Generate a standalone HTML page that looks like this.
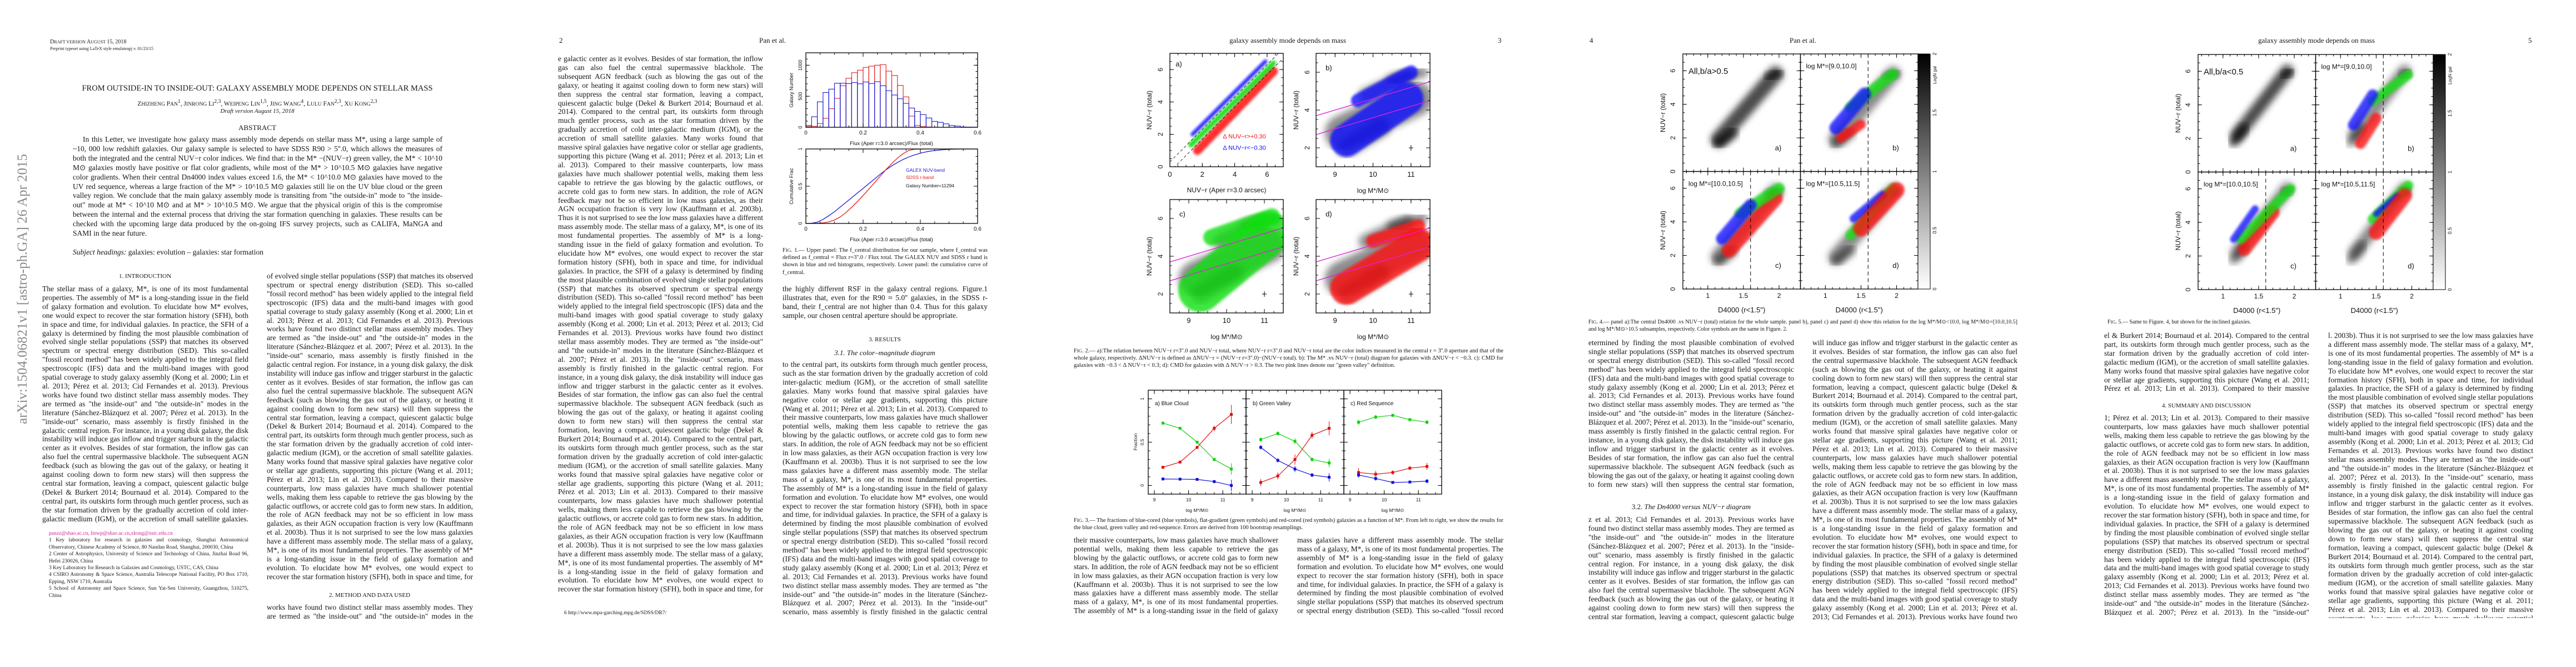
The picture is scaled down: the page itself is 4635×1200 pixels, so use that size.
<!DOCTYPE html>
<html><head><meta charset="utf-8">
<style>
body{margin:0;width:4635px;height:1200px;position:relative;background:#fff;overflow:hidden;font-family:"Liberation Serif",serif;color:#161616}
.t{position:absolute;font-size:13.5px;line-height:15.9px;text-align:justify;overflow:hidden}
.cap{position:absolute;font-size:10.5px;line-height:13.2px;text-align:justify;overflow:hidden}
.h{position:absolute;white-space:nowrap;transform:translateX(-50%)}
.l{position:absolute;white-space:nowrap}
svg#figs{position:absolute;left:0;top:0}
</style></head><body>

<svg width="40" height="600" style="position:absolute;left:18px;top:230px"><text x="-290" y="30" transform="rotate(-90)" text-anchor="middle" font-family="Liberation Serif" font-size="25" fill="#8a8a8a">arXiv:1504.06821v1  [astro-ph.GA]  26 Apr 2015</text></svg>

<div class="l" style="left:90px;top:70px;font-size:10px">D<span style="font-size:8px">RAFT VERSION</span> A<span style="font-size:8px">UGUST</span> 15, 2018</div>
<div class="l" style="left:90px;top:83px;font-size:8px">Preprint typeset using LaTeX style emulateapj v. 01/23/15</div>
<div class="h" style="left:463px;top:151px;font-size:14.5px">FROM OUTSIDE-IN TO INSIDE-OUT: GALAXY ASSEMBLY MODE DEPENDS ON STELLAR MASS</div>
<div class="h" style="left:463px;top:177px;font-size:11.5px">Z<small>HIZHENG</small> P<small>AN</small><sup>1</sup>, J<small>INRONG</small> L<small>I</small><sup>2,3</sup>, W<small>EIPENG</small> L<small>IN</small><sup>1,5</sup>, J<small>ING</small> W<small>ANG</small><sup>4</sup>, L<small>ULU</small> F<small>AN</small><sup>2,3</sup>, X<small>U</small> K<small>ONG</small><sup>2,3</sup></div>
<div class="h" style="left:463px;top:194px;font-size:11px;font-style:italic">Draft version August 15, 2018</div>
<div class="h" style="left:463px;top:222px;font-size:13px">ABSTRACT</div>
<div class="t" style="left:131px;top:243px;width:665px;height:203px;line-height:16.9px;text-indent:18px">In this Letter, we investigate how galaxy mass assembly mode depends on stellar mass M*, using a large sample of ~10, 000 low redshift galaxies. Our galaxy sample is selected to have SDSS R90 &gt; 5''.0, which allows the measures of both the integrated and the central NUV−r color indices. We find that: in the M* −(NUV−r) green valley, the M* &lt; 10^10 M⊙ galaxies mostly have positive or flat color gradients, while most of the M* &gt; 10^10.5 M⊙ galaxies have negative color gradients. When their central Dn4000 index values exceed 1.6, the M* &lt; 10^10.0 M⊙ galaxies have moved to the UV red sequence, whereas a large fraction of the M* &gt; 10^10.5 M⊙ galaxies still lie on the UV blue cloud or the green valley region. We conclude that the main galaxy assembly mode is transiting from "the outside-in" mode to "the inside-out" mode at M* &lt; 10^10 M⊙ and at M* &gt; 10^10.5 M⊙. We argue that the physical origin of this is the compromise between the internal and the external process that driving the star formation quenching in galaxies. These results can be checked with the upcoming large data produced by the on-going IFS survey projects, such as CALIFA, MaNGA and SAMI in the near future.</div>
<div class="l" style="left:131px;top:446px;font-size:13.5px"><i>Subject headings:</i> galaxies: evolution – galaxies: star formation</div>
<div class="h" style="left:261px;top:491px;font-size:11px">1. INTRODUCTION</div>
<div class="t fill" style="left:76px;top:512px;width:371px;height:430px"></div>
<div class="cap" style="left:88px;top:954px;width:359px;height:158px;font-size:9.5px;line-height:12.4px"><span style="color:#d0208a">panzz@shao.ac.cn, linwp@shao.ac.cn,xkong@ustc.edu.cn</span><br>1 Key laboratory for research in galaxies and cosmology, Shanghai Astronomical Observatory, Chinese Academy of Science, 80 Nandan Road, Shanghai, 200030, China<br>2 Center of Astrophysics, University of Science and Technology of China, Jinzhai Road 96, Hefei 230026, China<br>3 Key Laboratory for Research in Galaxies and Cosmology, USTC, CAS, China<br>4 CSIRO Astronomy &amp; Space Science, Australia Telescope National Facility, PO Box 1710, Epping, NSW 1710, Australia<br>5 School of Astronomy and Space Science, Sun Yat-Sen University, Guangzhou, 510275, China</div>
<div class="t fill" style="left:480px;top:489px;width:371px;height:559px"></div>
<div class="h" style="left:665px;top:1065px;font-size:11px">2. METHOD AND DATA USED</div>
<div class="t fill" style="left:480px;top:1085px;width:371px;height:32px"></div>

<!-- page 2 -->
<div class="l" style="left:1006px;top:65px;font-size:13px">2</div>
<div class="h" style="left:1390px;top:65px;font-size:13px">Pan et al.</div>
<div class="t fill" style="left:1004px;top:98px;width:369px;height:970px"></div>
<div class="l" style="left:1015px;top:1098px;font-size:9.5px">6 http://www.mpa-garching.mpg.de/SDSS/DR7/</div>
<div class="cap" style="left:1408px;top:444px;width:369px;height:56px">F<small>IG</small>. 1.— Upper panel: The f_central distribution for our sample, where f_central was defined as f_central = Flux r=3''.0 / Flux total. The GALEX NUV and SDSS r band is shown in blue and red histograms, respectively. Lower panel: the cumulative curve of f_central.</div>
<div class="t" style="left:1408px;top:512px;width:369px;height:80px">the highly different RSF in the galaxy central regions. Figure.1 illustrates that, even for the R90 ≈ 5.0'' galaxies, in the SDSS r-band, their f_central are not higher than 0.4. Thus for this galaxy sample, our chosen central aperture should be appropriate.</div>
<div class="h" style="left:1592px;top:605px;font-size:11px">3. RESULTS</div>
<div class="h" style="left:1592px;top:627px;font-size:13px;font-style:italic">3.1. The color–magnitude diagram</div>
<div class="t fill" style="left:1408px;top:648px;width:369px;height:462px"></div>

<!-- page 3 -->
<div class="h" style="left:2317px;top:65px;font-size:13px">galaxy assembly mode depends on mass</div>
<div class="l" style="left:2695px;top:65px;font-size:13px">3</div>
<div class="cap" style="left:1932px;top:625px;width:773px;height:56px">F<small>IG</small>. 2.— a):The relation between NUV−r r=3''.0 and NUV−r total, where NUV−r r=3''.0 and NUV−r total are the color indices measured in the central r = 3''.0 aperture and that of the whole galaxy, respectively. ΔNUV−r is defined as ΔNUV−r = (NUV−r r=3''.0)−(NUV−r total). b): The M* .vs NUV−r (total) diagram for galaxies with ΔNUV−r &lt; −0.3. c): CMD for galaxies with −0.3 &lt; Δ NUV−r &lt; 0.3; d): CMD for galaxies with Δ NUV−r &gt; 0.3. The two pink lines denote our "green valley" definition.</div>
<div class="cap" style="left:1932px;top:930px;width:773px;height:28px">F<small>IG</small>. 3.— The fractions of blue-cored (blue symbols), flat-gradient (green symbols) and red-cored (red symbols) galaxies as a function of M*. From left to right, we show the results for the blue cloud, green valley and red-sequence. Errors are derived from 100 bootstrap resamplings.</div>
<div class="t fill" style="left:1932px;top:964px;width:368px;height:143px"></div>
<div class="t fill" style="left:2334px;top:964px;width:371px;height:143px"></div>

<!-- page 4 -->
<div class="l" style="left:2860px;top:65px;font-size:13px">4</div>
<div class="h" style="left:3244px;top:65px;font-size:13px">Pan et al.</div>
<div class="cap" style="left:2858px;top:573px;width:772px;height:28px;font-size:10px">F<small>IG</small>. 4.— panel a):The central Dn4000 .vs NUV−r (total) relation for the whole sample. panel b), panel c) and panel d) show this relation for the log M*/M⊙&lt;10.0, log M*/M⊙=[10.0,10.5] and log M*/M⊙&gt;10.5 subsamples, respectively. Color symbols are the same in Figure. 2.</div>
<div class="t fill" style="left:2858px;top:609px;width:370px;height:272px"></div>
<div class="h" style="left:3043px;top:904px;font-size:13px">3.2. <i>The Dn4000 versus NUV−r diagram</i></div>
<div class="t fill" style="left:2858px;top:927px;width:370px;height:190px"></div>
<div class="t fill" style="left:3261px;top:609px;width:369px;height:508px"></div>

<!-- page 5 -->
<div class="h" style="left:4168px;top:65px;font-size:13px">galaxy assembly mode depends on mass</div>
<div class="l" style="left:4549px;top:65px;font-size:13px">5</div>
<div class="l" style="left:3792px;top:574px;font-size:10px">F<small>IG</small>. 5.— Same to Figure. 4, but shown for the inclined galaxies.</div>
<div class="t fill" style="left:3786px;top:596px;width:369px;height:112px"></div>
<div class="h" style="left:3970px;top:724px;font-size:11px">4. SUMMARY AND DISCUSSION</div>
<div class="t fill" style="left:3786px;top:744px;width:369px;height:368px"></div>
<div class="t fill" style="left:4189px;top:596px;width:369px;height:516px"></div>

<svg id="figs" width="4635" height="1200">
<defs>
<filter id="b6" x="-50%" y="-50%" width="200%" height="200%"><feGaussianBlur stdDeviation="6"/></filter>
<filter id="b2" x="-50%" y="-50%" width="200%" height="200%"><feGaussianBlur stdDeviation="2.2"/></filter>
<linearGradient id="cbar" x1="0" y1="0" x2="0" y2="1"><stop offset="0" stop-color="#000"/><stop offset="1" stop-color="#fff"/></linearGradient>
</defs>
</svg>

<script>
// ---------- Figure 1 data ----------
const histBinEdges=[0,0.02,0.04,0.06,0.08,0.10,0.12,0.14,0.16,0.18,0.20,0.22,0.24,0.26,0.28,0.30,0.32,0.34,0.36,0.38,0.40,0.42,0.44,0.46,0.48,0.50,0.52,0.54,0.56,0.58];
const nuvCounts=[30,170,410,560,615,710,710,705,720,700,730,705,735,670,590,520,460,385,310,255,205,150,95,80,55,30,20,5,3,2];
const rCounts=[10,15,60,145,300,465,670,790,880,920,965,985,1000,1010,905,835,675,490,180,30,10,5,0,0,0,0,0,0,0,0];
const fluxTicks=[0,0.2,0.4,0.6];
const countTicks=[0,500,1000];
const cumTicks=[0,0.5,1];
// ---------- Figure 3 data ----------
const massBins=[9.25,9.75,10.25,10.75,11.25];
const massTicks=[9,10,11];
const fracTicks=[0,0.5,1];
const bcGreen=[0.72,0.66,0.50,0.30,0.19], bcRed=[0.21,0.27,0.44,0.66,0.82], bcBlue=[0.075,0.073,0.07,0.045,0.0];
const gvGreen=[0.53,0.60,0.51,0.30,0.26], gvRed=[0.035,0.11,0.30,0.58,0.66], gvBlue=[0.44,0.29,0.19,0.12,0.095];
const rsGreen=[0.73,0.79,0.81,0.76,0.73], rsRed=[0.15,0.13,0.15,0.20,0.22], rsBlue=[0.12,0.08,0.035,0.04,0.05];
const bcErr=[0.015,0.015,0.015,0.03,0.11], gvErr=[0.04,0.04,0.06,0.04,0.08], rsErr=[0.05,0.04,0.025,0.02,0.04];
// ---------- Figure 2 clouds [x1,y1,x2,y2,width] ----------
const f2aRed=[[1.7,1.0,6.4,5.9,0.75]], f2aBlue=[[1.4,2.0,5.9,6.5,0.35]], f2aGreen=[[1.3,1.35,6.4,6.4,0.45]];
const f2Gray=[[9.3,2.0,10.2,3.1,1.4],[9.2,2.8,11.1,4.6,2.6],[10.5,5.6,11.3,6.0,0.8],[9.8,4.8,10.9,5.8,1.0]];
const f2bBlue=[[9.3,2.4,10.9,4.6,2.4],[9.6,4.5,11.0,6.0,1.0]];
const f2cGreen=[[9.3,2.2,11.1,5.2,3.2],[9.6,5.0,11.2,6.1,1.2]];
const f2dRed=[[9.3,2.3,11.2,4.6,2.4],[10.0,4.8,11.2,5.6,1.0]];
const gvLineSlope=0.6, gvLineLow=-2.4, gvLineHigh=-1.4;
// ---------- Figure 4 / 5 clouds ----------
const f4Gray=[[1.15,1.9,1.95,5.8,1.3],[1.15,1.7,1.35,2.3,0.9],[1.85,5.6,2.0,5.9,0.6]];
const f4bBlue=[[1.15,2.6,1.55,4.6,1.1]], f4bRed=[[1.22,2.0,1.5,2.8,0.8]], f4bGreen=[[1.35,3.8,1.95,5.8,0.9]];
const f4cBlue=[[1.2,3.0,1.6,5.0,1.0]], f4cGreen=[[1.45,4.5,2.0,6.0,0.9]], f4cRed=[[1.3,2.3,1.95,5.4,1.2]];
const f4dBlue=[[1.4,4.2,1.8,5.6,0.7]], f4dGreen=[[1.35,3.2,1.95,6.0,0.8]], f4dRed=[[1.5,3.6,2.0,5.9,1.3]];
const f5Gray=[[1.2,2.2,1.9,6.0,1.1],[1.15,1.8,1.3,2.6,0.8],[1.85,5.7,1.95,6.0,0.6]];
const f5bBlue=[[1.18,2.8,1.45,4.6,0.9]], f5bRed=[[1.28,1.7,1.5,3.2,0.9]], f5bGreen=[[1.45,4.2,1.95,5.8,0.8]];
const f5cBlue=[[1.15,3.0,1.45,4.8,0.6]], f5cGreen=[[1.25,3.0,1.95,6.0,0.8]], f5cRed=[[1.3,2.4,1.7,4.6,1.1]];
const f5dBlue=[[1.5,4.5,1.8,5.6,0.5]], f5dGreen=[[1.45,4.2,1.95,6.2,0.8]], f5dRed=[[1.5,3.4,1.9,5.6,1.2]];
const d4000Ticks=[1,1.5,2];
const nuvTicks=[0,2,4,6];
const cmdTicks=[2,4,6];
const cbarLabels=['0','0.5','1','1.5','2'];

const NS='http://www.w3.org/2000/svg';
const svg=document.getElementById('figs');
const CLOUD_SCALE=0.72;
function mk(tag,parent){const e=document.createElementNS(NS,tag);parent.appendChild(e);return e;}
function at(e,o){for(const k in o)e.setAttribute(k,o[k]);return e;}
function sc(d0,d1,p0,p1){return v=>p0+(v-d0)/(d1-d0)*(p1-p0);}
function txt(p,x,y,s,size,opt){opt=opt||{};const t=mk('text',p);at(t,{x:x,y:y,'font-size':size,'font-family':opt.fam||'Liberation Sans','text-anchor':opt.anchor||'middle',fill:opt.fill||'#111'});if(opt.rot)t.setAttribute('transform','rotate(-90 '+x+' '+y+')');t.textContent=s;return t;}
let clipN=0;
function panel(name,x0,y0,x1,y1,xd,yd){
  const g=mk('g',svg);
  
  
  const cp=mk('clipPath',g);const id='cp'+(clipN++);cp.setAttribute('id',id);
  at(mk('rect',cp),{x:x0,y:y0,width:x1-x0,height:y1-y0});
  const inner=mk('g',g);inner.setAttribute('clip-path','url(#'+id+')');
  return {g:g,inner:inner,x0:x0,y0:y0,x1:x1,y1:y1,X:sc(xd[0],xd[1],x0,x1),Y:sc(yd[0],yd[1],y1,y0)};
}
function frame(P,xt,yt,xm,ym){
  const f=mk('rect',P.g);at(f,{x:P.x0,y:P.y0,width:P.x1-P.x0,height:P.y1-P.y0,fill:'none',stroke:'#000','stroke-width':1.3});
  
  
  const tk=(x1,y1,x2,y2)=>at(mk('line',P.g),{x1:x1,y1:y1,x2:x2,y2:y2,stroke:'#000','stroke-width':1});
  xt.forEach(v=>{const x=P.X(v);tk(x,P.y1,x,P.y1-7);tk(x,P.y0,x,P.y0+7);});
  yt.forEach(v=>{const y=P.Y(v);tk(P.x0,y,P.x0+7,y);tk(P.x1,y,P.x1-7,y);});
  (xm||[]).forEach(v=>{const x=P.X(v);tk(x,P.y1,x,P.y1-3.5);tk(x,P.y0,x,P.y0+3.5);});
  (ym||[]).forEach(v=>{const y=P.Y(v);tk(P.x0,y,P.x0+3.5,y);tk(P.x1,y,P.x1-3.5,y);});
}
function range(a,b,s){const r=[];for(let v=a;v<=b+1e-9;v+=s)r.push(+v.toFixed(4));return r;}
function clouds(P,list,color,op,filt,name){
  list.forEach(c=>{
    const l=mk('line',P.inner);
    at(l,{x1:P.X(c[0]),y1:P.Y(c[1]),x2:P.X(c[2]),y2:P.Y(c[3]),stroke:color,'stroke-opacity':op,'stroke-width':CLOUD_SCALE*Math.abs(P.Y(0)-P.Y(c[4])),'stroke-linecap':'round',filter:'url(#'+filt+')'});
    
    
  });
}

// ===== Figure 1 =====
(function(){
  const P=panel('fig1-histogram',1450,95,1759,229,[0,0.6],[0,1200]);
  [[rCounts,'#e0201c'],[nuvCounts,'#1a1ad8']].forEach(([arr,col])=>{
    arr.forEach((v,i)=>{const x=P.X(histBinEdges[i]),w=P.X(histBinEdges[i]+0.02)-x;
      const r=mk('rect',P.inner);at(r,{x:x,y:P.Y(v),width:w,height:P.Y(0)-P.Y(v),fill:'none',stroke:col,'stroke-width':1.1});
      
      });
  });
  frame(P,fluxTicks,countTicks,range(0,0.6,0.05),range(0,1200,100));
  fluxTicks.forEach(v=>txt(svg,P.X(v),242,String(v),10));
  countTicks.forEach(v=>txt(svg,1443,P.Y(v),String(v),9,{rot:1}));
  txt(svg,1427,162,'Galaxy Number',9,{rot:1});
  txt(svg,1604,261,'Flux (Aper r=3.0 arcsec)/Flux (total)',9.5);
  const Q=panel('fig1-cumulative',1450,268,1759,402,[0,0.6],[0,1]);
  [[nuvCounts,'#1a1ad8'],[rCounts,'#e0201c']].forEach(([arr,col])=>{
    const tot=arr.reduce((a,b)=>a+b,0);let c=0;let d='M'+Q.X(0)+','+Q.Y(0);
    arr.forEach((v,i)=>{c+=v;d+=' L'+Q.X(histBinEdges[i]+0.02)+','+Q.Y(c/tot);});
    const p=mk('path',Q.inner);at(p,{d:d,fill:'none',stroke:col,'stroke-width':1.3,'stroke-linejoin':'round'});
    
    
  });
  frame(Q,fluxTicks,cumTicks,range(0,0.6,0.05),range(0,1,0.1));
  fluxTicks.forEach(v=>txt(svg,Q.X(v),415,String(v),10));
  cumTicks.forEach(v=>txt(svg,1443,Q.Y(v),String(v),9,{rot:1}));
  txt(svg,1427,335,'Cumulative Frac',9,{rot:1});
  txt(svg,1604,434,'Flux (Aper r=3.0 arcsec)/Flux (total)',9.5);
  txt(svg,1630,309,'GALEX NUV-band',8.5,{anchor:'start',fill:'#1a1ad8'});
  txt(svg,1630,322,'SDSS r-band',8.5,{anchor:'start',fill:'#e0201c'});
  txt(svg,1630,337,'Galaxy Number=11294',8.5,{anchor:'start'});
})();

// ===== Figure 2 =====
(function(){
  const A=panel('fig2-panel-a',2105,96,2309,300,[0,7],[0,7]);
  clouds(A,f2aRed,'#ff1010',0.85,'b2','red-core-cloud');
  clouds(A,f2aBlue,'#1010ff',0.85,'b2','blue-core-cloud');
  clouds(A,f2aGreen,'#10e010',0.9,'b2','flat-cloud');
  [0.3,-0.3].forEach(o=>at(mk('line',A.inner),{x1:A.X(0),y1:A.Y(o),x2:A.X(7),y2:A.Y(7+o),stroke:'#000','stroke-dasharray':'5,4','stroke-width':0.8}));
  frame(A,nuvTicks,nuvTicks,range(0,7,0.5),range(0,7,0.5));
  txt(svg,A.X(4.6),A.Y(1.75),'Δ NUV−r>+0.30',11,{fill:'#ff1010'});
  txt(svg,A.X(4.6),A.Y(1.05),'Δ NUV−r<−0.30',11,{fill:'#1010ff'});
  txt(svg,A.X(0.35),A.Y(6.2),'a)',13,{anchor:'start'});
  nuvTicks.forEach(v=>{txt(svg,A.X(v),318,String(v),13);txt(svg,2092,A.Y(v),String(v),12,{rot:1});});
  txt(svg,2207,346,'NUV−r (Aper r=3.0 arcsec)',12);
  txt(svg,2072,198,'NUV−r (total)',12,{rot:1});
  const specs=[['fig2-panel-b',2368,96,2573,300,f2bBlue,'#1010ff','b)'],['fig2-panel-c',2105,359,2309,563,f2cGreen,'#10e010','c)'],['fig2-panel-d',2368,359,2573,563,f2dRed,'#ff1010','d)']];
  specs.forEach(s=>{
    const P=panel(s[0],s[1],s[2],s[3],s[4],[8.5,11.5],[1,7]);
    clouds(P,f2Gray,'#000',0.45,'b6','density-gray');
    clouds(P,s[5],s[6],0.8,'b2','colored-cloud');
    [gvLineLow,gvLineHigh].forEach(b=>{const l=mk('line',P.inner);at(l,{x1:P.X(8.5),y1:P.Y(gvLineSlope*8.5+b),x2:P.X(11.5),y2:P.Y(gvLineSlope*11.5+b),stroke:'#e020e0','stroke-width':1.3});
      
      });
    frame(P,massTicks,cmdTicks,range(8.5,11.5,0.25),range(1,7,0.5));
    txt(svg,P.X(8.75),P.Y(6.1),s[7],13,{anchor:'start'});
    at(mk('line',svg),{x1:P.X(11)-4,y1:P.Y(2),x2:P.X(11)+4,y2:P.Y(2),stroke:'#000'});
    at(mk('line',svg),{x1:P.X(11),y1:P.Y(2)-5,x2:P.X(11),y2:P.Y(2)+5,stroke:'#000'});
    massTicks.forEach(v=>txt(svg,P.X(v),s[4]+18,String(v),13));
    txt(svg,(s[1]+s[3])/2,s[4]+47,'log M*/M⊙',12);
    const lx=s[1]<2300?2092:2356;
    cmdTicks.forEach(v=>txt(svg,lx,P.Y(v),String(v),12,{rot:1}));
    txt(svg,lx-20,(s[2]+s[4])/2,'NUV−r (total)',12,{rot:1});
  });
})();

// ===== Figure 3 =====
(function(){
  const sets=[['fig3-blue-cloud',2066,'a) Blue Cloud',bcGreen,bcRed,bcBlue,bcErr],['fig3-green-valley',2242,'b) Green Valley',gvGreen,gvRed,gvBlue,gvErr],['fig3-red-sequence',2418,'c) Red Sequence',rsGreen,rsRed,rsBlue,rsErr]];
  sets.forEach(s=>{
    const P=panel(s[0],s[1],702,s[1]+176,889,[8.82,11.68],[-0.1,1.1]);
    [[s[3],'#10d010'],[s[4],'#e01010'],[s[5],'#1010e0']].forEach(([arr,col],k)=>{
      const pl=mk('polyline',P.g);at(pl,{points:arr.map((v,i)=>P.X(massBins[i])+','+P.Y(v)).join(' '),fill:'none',stroke:col,'stroke-width':1.2});
      
      
      arr.forEach((v,i)=>{const x=P.X(massBins[i]),y=P.Y(v);const e=s[6][i]*(k==1?1:0.6);
        at(mk('line',P.g),{x1:x,y1:P.Y(v+e),x2:x,y2:P.Y(v-e),stroke:col,'stroke-width':1});
        const r=mk('rect',P.g);at(r,{x:x-2.5,y:y-2.5,width:5,height:5,fill:col});
        
        });
    });
    frame(P,massTicks,fracTicks,range(9,11.5,0.25),range(-0.1,1.1,0.1));
    txt(svg,s[1]+12,729,s[2],10,{anchor:'start'});
    massTicks.forEach(v=>txt(svg,P.X(v),902,String(v),8.5));
    txt(svg,s[1]+88,921,'log M*/M⊙',8.5);
    if(s[1]===2066){fracTicks.forEach(v=>txt(svg,2058,P.Y(v),String(v),8.5,{rot:1}));txt(svg,2046,795,'Fraction',8.5,{rot:1});}
  });
})();

// ===== Figures 4 & 5 =====
function dfig(pref,x0,y0,x1,y1,gray,cols,title,ylabX){
  const xm=(x0+x1)/2,ym=(y0+y1)/2;
  const boxes=[[x0,y0,xm,ym],[xm,y0,x1,ym],[x0,ym,xm,y1],[xm,ym,x1,y1]];
  const labels=[title,'log M*=[9.0,10.0]','log M*=[10.0,10.5]','log M*=[10.5,11.5]'];
  boxes.forEach((b,i)=>{
    const P=panel(pref+'-panel-'+'abcd'[i],b[0],b[1],b[2],b[3],[0.65,2.3],[0,7]);
    clouds(P,gray,'#000',i==0?0.7:0.45,'b6','density-gray');
    if(i>0){cols[i-1].forEach(([lst,col])=>clouds(P,lst,col,0.78,'b2','colored-cloud'));
      at(mk('line',P.inner),{x1:P.X(1.6),y1:P.y0,x2:P.X(1.6),y2:P.y1,stroke:'#000','stroke-dasharray':'7,5'});}
    frame(P,d4000Ticks,nuvTicks,range(0.7,2.3,0.1),range(0,7,0.5));
    txt(svg,b[0]+10,b[1]+(i==0?36:26),labels[i],i==0?15:12,{anchor:'start'});
    txt(svg,b[2]-40,b[3]-38,'abcd'[i]+')',13);
    if(i>=2){d4000Ticks.forEach(v=>txt(svg,P.X(v),y1+16,String(v),12));txt(svg,(b[0]+b[2])/2,y1+42,'D4000 (r<1.5")',13);}
    if(i%2==0){nuvTicks.forEach(v=>txt(svg,ylabX+18,P.Y(v),String(v),12,{rot:1}));txt(svg,ylabX,(b[1]+b[3])/2,'NUV−r (total)',12,{rot:1});}
  });
  const cb=mk('rect',svg);at(cb,{x:x1,y:y0,width:22,height:y1-y0,fill:'url(#cbar)',stroke:'#000'});
  
  
  cbarLabels.forEach((s,i)=>txt(svg,x1+33,y1-i*(y1-y0)/4,s,9,{rot:1}));
  txt(svg,x1+33,y0+38,'LogN gal',8,{rot:1});
}
dfig('fig4',3028,97,3451,520,f4Gray,[[[f4bGreen,'#10e010'],[f4bBlue,'#1010ff'],[f4bRed,'#ff1010']],[[f4cRed,'#ff1010'],[f4cGreen,'#10e010'],[f4cBlue,'#1010ff']],[[f4dGreen,'#10e010'],[f4dBlue,'#1010ff'],[f4dRed,'#ff1010']]],'All,b/a>0.5',2996);
dfig('fig5',3955,98,4378,521,f5Gray,[[[f5bGreen,'#10e010'],[f5bBlue,'#1010ff'],[f5bRed,'#ff1010']],[[f5cRed,'#ff1010'],[f5cGreen,'#10e010'],[f5cBlue,'#1010ff']],[[f5dGreen,'#10e010'],[f5dBlue,'#1010ff'],[f5dRed,'#ff1010']]],'All,b/a<0.5',3923);

// ===== text fill =====
const pool="The stellar mass of a galaxy, M*, is one of its most fundamental properties. The assembly of M* is a long-standing issue in the field of galaxy formation and evolution. To elucidate how M* evolves, one would expect to recover the star formation history (SFH), both in space and time, for individual galaxies. In practice, the SFH of a galaxy is determined by finding the most plausible combination of evolved single stellar populations (SSP) that matches its observed spectrum or spectral energy distribution (SED). This so-called \"fossil record method\" has been widely applied to the integral field spectroscopic (IFS) data and the multi-band images with good spatial coverage to study galaxy assembly (Kong et al. 2000; Lin et al. 2013; Pérez et al. 2013; Cid Fernandes et al. 2013). Previous works have found two distinct stellar mass assembly modes. They are termed as \"the inside-out\" and \"the outside-in\" modes in the literature (Sánchez-Blázquez et al. 2007; Pérez et al. 2013). In the \"inside-out\" scenario, mass assembly is firstly finished in the galactic central region. For instance, in a young disk galaxy, the disk instability will induce gas inflow and trigger starburst in the galactic center as it evolves. Besides of star formation, the inflow gas can also fuel the central supermassive blackhole. The subsequent AGN feedback (such as blowing the gas out of the galaxy, or heating it against cooling down to form new stars) will then suppress the central star formation, leaving a compact, quiescent galactic bulge (Dekel & Burkert 2014; Bournaud et al. 2014). Compared to the central part, its outskirts form through much gentler process, such as the star formation driven by the gradually accretion of cold inter-galactic medium (IGM), or the accretion of small satellite galaxies. Many works found that massive spiral galaxies have negative color or stellar age gradients, supporting this picture (Wang et al. 2011; Pérez et al. 2013; Lin et al. 2013). Compared to their massive counterparts, low mass galaxies have much shallower potential wells, making them less capable to retrieve the gas blowing by the galactic outflows, or accrete cold gas to form new stars. In addition, the role of AGN feedback may not be so efficient in low mass galaxies, as their AGN occupation fraction is very low (Kauffmann et al. 2003b). Thus it is not surprised to see the low mass galaxies have a different mass assembly mode. ";
document.querySelectorAll('.fill').forEach((b,k)=>{
  const off=(k*397)%pool.length;
  b.textContent=pool.slice(off)+pool+pool;
  if(b.style.height.replace('px','')>700)b.textContent+=pool;
});
</script>
</body></html>
